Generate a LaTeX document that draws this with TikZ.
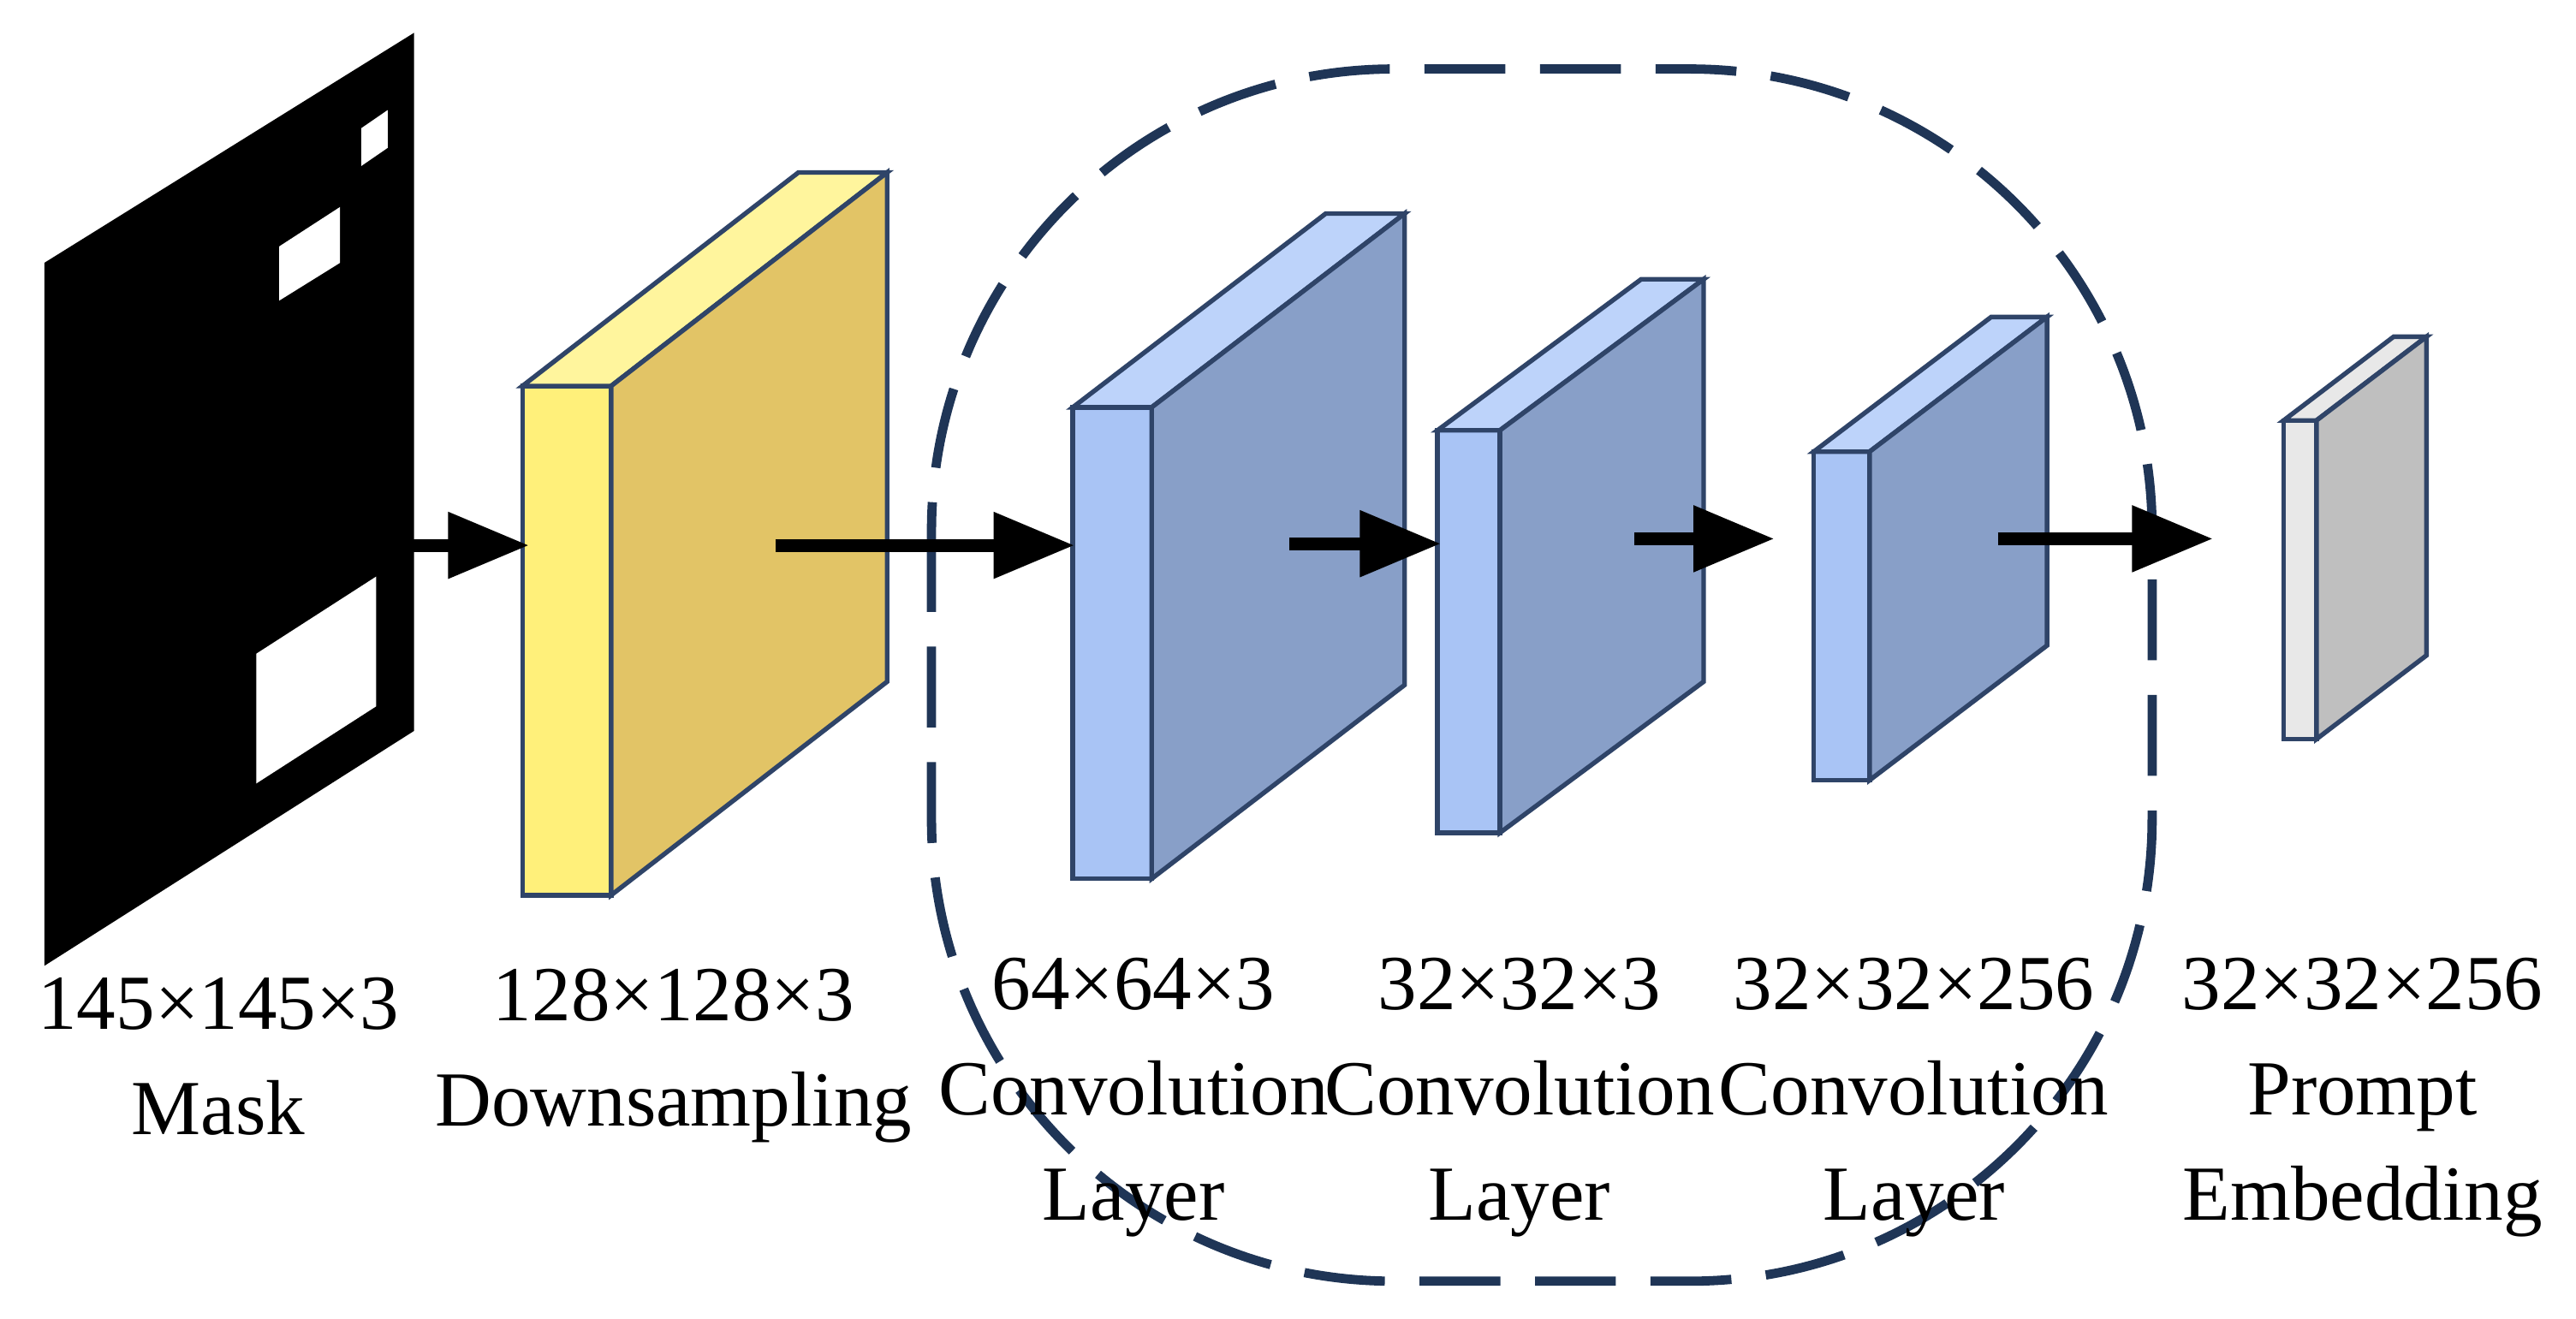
\documentclass[tikz,border=0pt]{standalone}
\usepackage{fontspec}
\setmainfont{Liberation Serif}
\usetikzlibrary{arrows.meta,positioning}
\definecolor{edge}{HTML}{2F4468}
\definecolor{yfront}{HTML}{FFF07A}
\definecolor{ytop}{HTML}{FFF59D}
\definecolor{yside}{HTML}{E2C466}
\definecolor{bfront}{HTML}{A9C4F5}
\definecolor{btop}{HTML}{BDD3FA}
\definecolor{bside}{HTML}{889FC8}
\definecolor{gfront}{HTML}{E8E8E8}
\definecolor{gside}{HTML}{BFBFBF}
\definecolor{frame}{HTML}{1F3556}
% block: x, top, width, height, dx, dy, front, top, side
\newcommand{\layerblock}[9]{%
	\draw[edge, line width=0.8pt, fill=#7] (#1,#2) rectangle ++(#3,#4);
	\draw[edge, line width=0.8pt, fill=#8] (#1,#2) -- ++(#5,#6) -- ++(#3,0) -- ++(-#5,-#6) -- cycle;
	\draw[edge, line width=0.8pt, fill=#9] (#1+#3,#2) -- ++(#5,#6) -- ++(0,#4) -- ++(-#5,-#6) -- cycle;
}
\tikzset{
	arr/.style={line width=2.2pt, -{Triangle[length=14pt,width=11pt]}},
	lbl/.style={align=center, font=\fontsize{13.5}{14.2}\selectfont, inner sep=0pt},
}
\begin{document}
\begin{tikzpicture}[x=0.01cm, y=-0.01cm]
	\useasboundingbox (0,0) rectangle (1568,803);
	% mask
	\fill[black] (27,160) -- (252,20) -- (252,445) -- (27,588) -- cycle;
	\fill[white] (220,78) -- (236,67) -- (236,90) -- (220,101) -- cycle;
	\fill[white] (170,150) -- (207,126) -- (207,160) -- (170,183) -- cycle;
	\fill[white] (156,398) -- (229,351) -- (229,430) -- (156,477) -- cycle;
	% blocks
	\layerblock{318}{235}{54}{310}{168}{-130}{yfront}{ytop}{yside}
	\layerblock{653}{248}{48}{287}{154}{-118}{bfront}{btop}{bside}
	\layerblock{875}{262}{38}{245}{124}{-92}{bfront}{btop}{bside}
	\layerblock{1104}{275}{34}{200}{108}{-82}{bfront}{btop}{bside}
	\layerblock{1390}{256}{20}{194}{67}{-51}{gfront}{gfront}{gside}
	% dashed frame
	\draw[frame, line width=1.6pt, dash pattern=on 14pt off 6pt, rounded corners=80]
		(567,42) rectangle (1310,780);
	% arrow ends
	\coordinate (m0) at (250,332);
	\coordinate (d0) at (322,332);
	\coordinate (d1) at (472,332);
	\coordinate (c1a) at (654,332);
	\coordinate (c1b) at (785,331);
	\coordinate (c2a) at (877,331);
	\coordinate (c2b) at (995,328);
	\coordinate (c3a) at (1080,328);
	\coordinate (c3b) at (1216,328);
	\coordinate (pe) at (1347,328);
	\draw[arr] (m0) -- (d0);
	\draw[arr] (d1) -- (c1a);
	\draw[arr] (c1b) -- (c2a);
	\draw[arr] (c2b) -- (c3a);
	\draw[arr] (c3b) -- (pe);
	% labels
	\node[lbl] (lmask) at (133,643) {145×145×3\\[4pt]Mask};
	\node[lbl] (ldown) at (410,643) {128×128×3\\[4pt]Downsampling};
	\node[lbl] (lc1) at (690,668) {64×64×3\\[4pt]Convolution\\[4pt]Layer};
	\node[lbl] (lc2) at (925,668) {32×32×3\\[4pt]Convolution\\[4pt]Layer};
	\node[lbl] (lc3) at (1165,668) {32×32×256\\[4pt]Convolution\\[4pt]Layer};
	\node[lbl] (lpe) at (1438,668) {32×32×256\\[4pt]Prompt\\[4pt]Embedding};
\end{tikzpicture}
\end{document}
